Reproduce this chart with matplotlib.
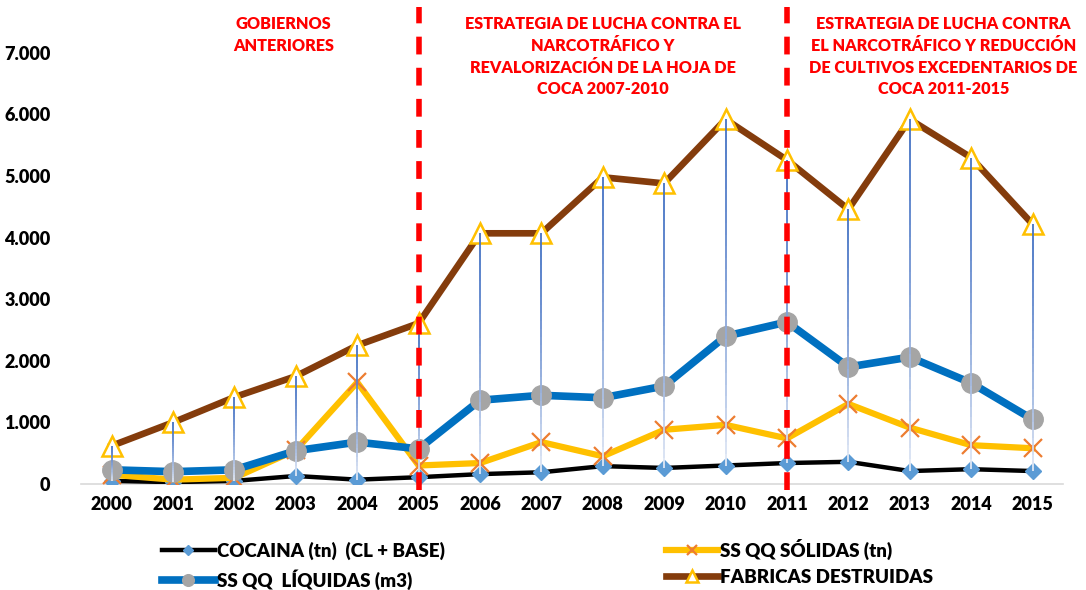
import numpy as np
import matplotlib
matplotlib.use('Agg')
import matplotlib.pyplot as plt
from matplotlib.collections import LineCollection

plt.rcParams['font.family'] = ['Lato', 'DejaVu Sans']

years = [2000, 2001, 2002, 2003, 2004, 2005, 2006, 2007,
         2008, 2009, 2010, 2011, 2012, 2013, 2014, 2015]
cocaina = [50, 30, 50, 130, 70, 110, 160, 190, 290, 260, 300, 340, 360, 210, 240, 210]
solidas = [150, 70, 100, 550, 1650, 300, 340, 680, 450, 880, 960, 740, 1300, 915, 630, 580]
liquidas = [230, 200, 230, 540, 680, 570, 1360, 1440, 1400, 1590, 2400, 2630, 1900, 2060, 1640, 1050]
fabricas = [620, 1000, 1410, 1750, 2250, 2610, 4070, 4070, 4980, 4880, 5920, 5260, 4460, 5920, 5300, 4220]

yticks = [0, 1000, 2000, 3000, 4000, 5000, 6000, 7000]
ytick_labels = ['0', '1.000', '2.000', '3.000', '4.000', '5.000', '6.000', '7.000']
period_breaks = [2005, 2011]
period_texts = ['GOBIERNOS\nANTERIORES',
                'ESTRATEGIA DE LUCHA CONTRA EL\nNARCOTRÁFICO Y\nREVALORIZACIÓN DE LA HOJA DE\nCOCA 2007-2010',
                'ESTRATEGIA DE LUCHA CONTRA\nEL NARCOTRÁFICO Y REDUCCIÓN\nDE CULTIVOS EXCEDENTARIOS DE\nCOCA 2011-2015']
period_text_x = [2002.8, 2008.0, 2013.55]

fig = plt.figure(figsize=(10.86, 5.9), dpi=100)
ax = fig.add_axes([0.0746, 0.1797, 0.9044, 0.809])
ax.set_xlim(1999.5, 2015.5)
ax.set_ylim(0, 7750)

# high-low lines with fading colour
segs = []
cols = []
base = np.array(matplotlib.colors.to_rgb('#4472C4'))
for x, lo, hi in zip(years, cocaina, fabricas):
    edges = np.linspace(lo, hi, 31)
    for k in range(30):
        segs.append([(x, edges[k]), (x, edges[k + 1])])
        t = (k + 0.5) / 30.0
        w = 0.85 * (1 - t) ** 1.5
        cols.append(tuple(base * (1 - w) + np.ones(3) * w))
ax.add_collection(LineCollection(segs, colors=cols, linewidths=1.3, zorder=6))

ax.plot(years, cocaina, color='black', lw=3.2, marker='D', ms=8,
        mfc='#5B9BD5', mec='#5B9BD5', label='COCAINA (tn)  (CL + BASE)', zorder=3)
ax.plot(years, liquidas, color='#0070C0', lw=5.5, marker='o', ms=14,
        mfc='#A5A5A5', mec='#A5A5A5', label='SS QQ  LÍQUIDAS (m3)', zorder=4)
ax.plot(years, solidas, color='#FFC000', lw=4.5, marker='x', ms=13, mew=1.6,
        mfc='#ED7D31', mec='#ED7D31', label='SS QQ SÓLIDAS (tn)', zorder=3.5)
ax.plot(years, fabricas, color='#843C0C', lw=4.8, marker='^', ms=15, mew=1.8,
        mfc='white', mec='#FFC000', label='FABRICAS DESTRUIDAS', zorder=5)

for xb in period_breaks:
    ax.plot([xb, xb], [-100, 7750], color='#FF0000', lw=4, ls=(0, (3.2, 2.4)),
            zorder=8, clip_on=False)

for tx, txt in zip(period_text_x, period_texts):
    ax.text(tx, 7600, txt, color='#FF0000', fontsize=11.7, fontweight='heavy',
            ha='center', va='top', linespacing=1.45)

ax.set_yticks(yticks)
ax.set_yticklabels(ytick_labels)
ax.set_xticks(years)
ax.set_xticklabels([str(y) for y in years])
for lab in ax.get_xticklabels() + ax.get_yticklabels():
    lab.set_fontweight('heavy')
    lab.set_fontsize(13)
ax.tick_params(axis='both', length=0)
ax.tick_params(axis='y', pad=22)
ax.tick_params(axis='x', pad=9)
for s in ['top', 'right', 'left']:
    ax.spines[s].set_visible(False)
ax.spines['bottom'].set_color('#D9D9D9')
ax.spines['bottom'].set_linewidth(1.2)

handles, labels = ax.get_legend_handles_labels()
leg = fig.legend(handles, labels,
                 loc='lower left', bbox_to_anchor=(0.1424, -0.012), ncol=2,
                 frameon=False, handlelength=2.8, handletextpad=0.1,
                 columnspacing=11.8, labelspacing=0.5, borderaxespad=0.2,
                 borderpad=0.2, prop={'weight': 'heavy', 'size': 13.5},
                 markerscale=0.6)

fig.savefig('out.png', dpi=100)
